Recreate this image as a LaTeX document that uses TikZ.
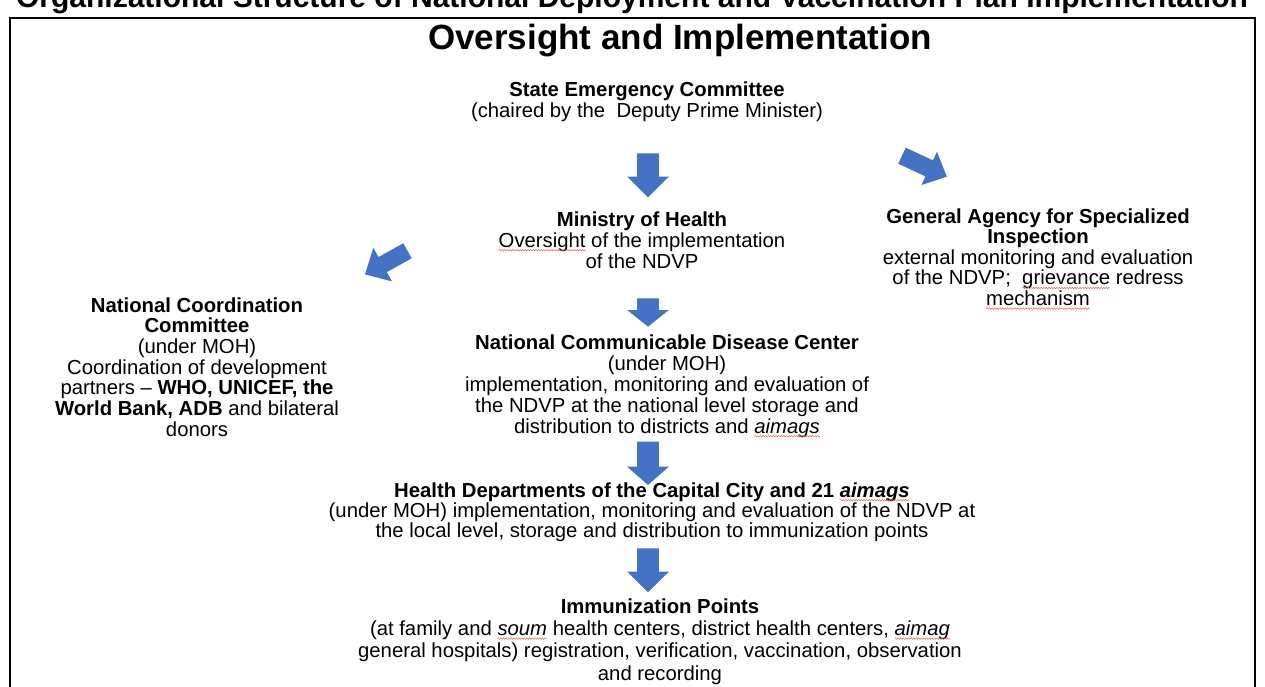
\documentclass[tikz,border=0pt]{standalone}
\usepackage{fontspec}
\setmainfont{Liberation Sans}
\usetikzlibrary{decorations.pathmorphing}
\definecolor{blockblue}{HTML}{4472C4}
\definecolor{spellred}{HTML}{E8605A}
% word with a red wavy underline
\newcommand\spellmark[1]{\tikz[baseline=(w.base)]{%
  \node[inner sep=0pt, outer sep=0pt, anchor=base] (w) {#1};
  \draw[overlay, spellred, line width=0.45pt, decorate,
    decoration={snake, amplitude=0.8pt, segment length=2.6pt}]
    ([yshift=-3.2pt]w.base west) -- ([yshift=-3.2pt]w.base east);}}
% block arrow: tail centre, direction, length, head length, shaft width, head width
\newcommand\blockarrow[6]{%
  \fill[blockblue, shift={#1}, rotate=#2]
    (0,-#5/2) -- (#3-#4,-#5/2) -- (#3-#4,-#6/2) -- (#3,0)
    -- (#3-#4,#6/2) -- (#3-#4,#5/2) -- (0,#5/2) -- cycle;}
\begin{document}
\begin{tikzpicture}[x=1pt,y=-1pt,
  % multi-line nodes are placed by the baseline of their last line
  body/.style={align=center, inner sep=0pt, anchor=base,
    font=\fontsize{20.3}{21}\selectfont},
  heading/.style={inner sep=0pt, anchor=base,
    font=\fontsize{35}{40}\selectfont\bfseries}]
\useasboundingbox (0,0) rectangle (1265,686);
\clip (0,0) rectangle (1265,686);
\fill[white] (0,0) rectangle (1265,686);

% page title and frame
\node[inner sep=0pt, anchor=base, font=\fontsize{30}{34}\selectfont\bfseries] (pagetitle) at (632,7)
  {Organizational Structure of National Deployment and Vaccination Plan Implementation};
\draw[line width=2pt] (10,18) rectangle (1255,730);

\node[heading] (head) at (680,49) {Oversight and Implementation};

% bodies
\node[body] (sec) at (647,117) {\textbf{State Emergency Committee}\\(chaired by the\ \ Deputy Prime Minister)};

\node[body] (moh) at (642,268) {\textbf{Ministry of Health}\\\spellmark{Oversight} of the implementation\\of the NDVP};

\node[body, font=\fontsize{20.3}{20.6}\selectfont] (gasi) at (1038,305.4) {\textbf{General Agency for Specialized}\\\textbf{Inspection}\\external monitoring and evaluation\\of the NDVP;\ \ \spellmark{grievance} redress\\\spellmark{mechanism}};

\node[body, font=\fontsize{20.3}{20.7}\selectfont] (ncc) at (197,436.2) {\textbf{National Coordination}\\\textbf{Committee}\\(under MOH)\\Coordination of development\\partners -- \textbf{WHO, UNICEF, the}\\\textbf{World Bank, ADB} and bilateral\\donors};

\node[body] (ncdc) at (667,433) {\textbf{National Communicable Disease Center}\\(under MOH)\\implementation, monitoring and evaluation of\\the NDVP at the national level storage and\\distribution to districts and \textit{\spellmark{aimags}}};

\node[body, font=\fontsize{20.3}{20.3}\selectfont] (hd) at (652,537.6) {\textbf{Health Departments of the Capital City and 21 \textit{\spellmark{aimags}}}\\(under MOH) implementation, monitoring and evaluation of the NDVP at\\the local level, storage and distribution to immunization points};

\node[body, font=\fontsize{20.3}{22.4}\selectfont] (ip) at (660,680.2) {\textbf{Immunization Points}\\(at family and \textit{\spellmark{soum}} health centers, district health centers, \textit{\spellmark{aimag}}\\general hospitals) registration, verification, vaccination, observation\\and recording};

% block arrows
\blockarrow{(648,153.3)}{-90}{44}{20.6}{21.7}{41.6}
\blockarrow{(648,298.3)}{-90}{28.4}{16.7}{21.7}{41.6}
\blockarrow{(648,441.7)}{-90}{43.3}{18.3}{21.7}{41.6}
\blockarrow{(648,548.3)}{-90}{44}{20.6}{21.7}{41.6}
\blockarrow{(902,155.7)}{-25}{49.4}{19.4}{17.7}{36.7}
\blockarrow{(407.5,250.8)}{209}{48.6}{20.2}{17.2}{38.4}
\end{tikzpicture}
\end{document}
